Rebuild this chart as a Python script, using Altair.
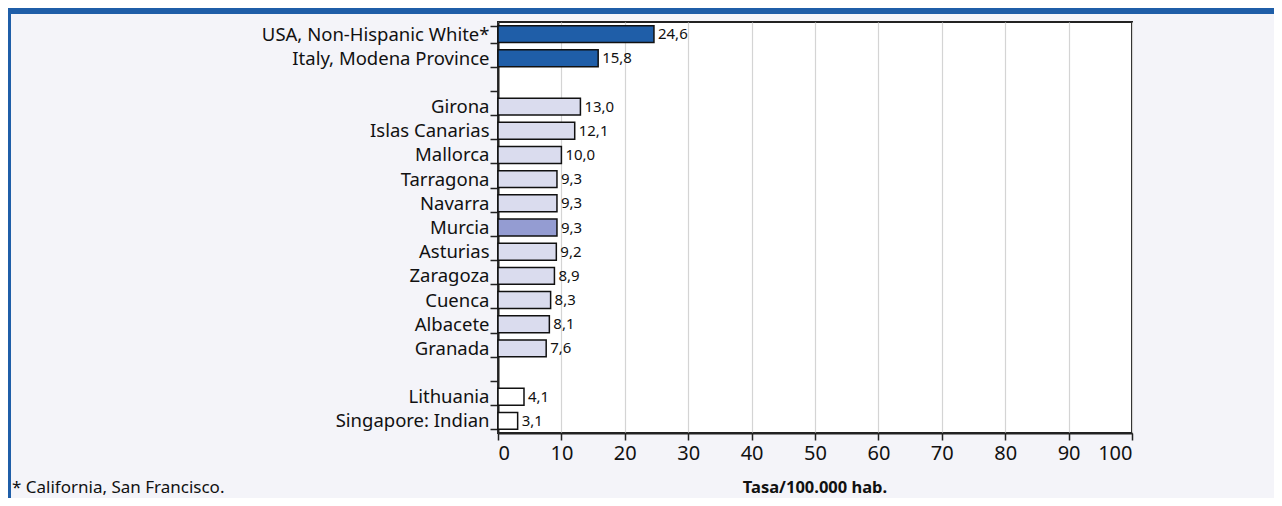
import altair as alt
import pandas as pd

categories = ["USA, Non-Hispanic White*", "Italy, Modena Province", " ",
              "Girona", "Islas Canarias", "Mallorca", "Tarragona", "Navarra",
              "Murcia", "Asturias", "Zaragoza", "Cuenca", "Albacete", "Granada",
              "  ", "Lithuania", "Singapore: Indian"]
values = [24.6, 15.8, None, 13.0, 12.1, 10.0, 9.3, 9.3, 9.3, 9.2, 8.9, 8.3,
          8.1, 7.6, None, 4.1, 3.1]
groups = ["ref", "ref", "gap", "es", "es", "es", "es", "es", "murcia", "es",
          "es", "es", "es", "es", "gap", "other", "other"]
x_ticks = [0, 10, 20, 30, 40, 50, 60, 70, 80, 90, 100]
x_title = "Tasa/100.000 hab."
footnote = "* California, San Francisco."

group_domain = ["ref", "es", "murcia", "other", "gap"]
group_colors = ["#1f5ea8", "#dadcee", "#949cd2", "#ffffff", "#ffffff"]

df = pd.DataFrame({"cat": categories, "val": values, "grp": groups})
df["lab"] = [("" if v is None or pd.isna(v) else f"{v:.1f}".replace(".", ",")) for v in df["val"]]
bars_df = df[df["grp"] != "gap"]

FONT = "Noto Sans"
W, H = 634, 411

y_enc = alt.Y("cat:N", sort=categories, scale=alt.Scale(domain=categories, paddingInner=0.3, paddingOuter=0.15),
              axis=alt.Axis(title=None, tickBand="extent", tickSize=8, tickColor="#222", tickWidth=1.5,
                            domainColor="#222", domainWidth=2, labelFontSize=18.5, labelFont=FONT,
                            labelColor="#111", labelPadding=1, labelLimit=480))
x_enc = alt.X("val:Q", scale=alt.Scale(domain=[0, 100], nice=False),
              axis=alt.Axis(values=x_ticks, title=None,
                            labelFontSize=20, labelFont=FONT, labelColor="#111", labelPadding=3,
                            tickSize=7, tickColor="#222", tickWidth=1.5, domainColor="#222", domainWidth=2,
                            grid=True, gridColor="#d4d4d4", gridWidth=1.2))

bars = alt.Chart(bars_df).mark_bar(stroke="#111", strokeWidth=1.5).encode(
    x=x_enc, y=y_enc,
    color=alt.Color("grp:N", scale=alt.Scale(domain=group_domain, range=group_colors), legend=None),
)
labels = alt.Chart(bars_df).mark_text(align="left", baseline="middle", dx=4, fontSize=15, font=FONT,
                                      color="#111").encode(
    x="val:Q", y=alt.Y("cat:N", sort=categories), text="lab:N")

foot = alt.Chart(pd.DataFrame({"t": [footnote]})).mark_text(
    align="left", baseline="alphabetic", fontSize=17, font=FONT, color="#111").encode(
    x=alt.value(-486), y=alt.value(471), text="t:N")

title = alt.Chart(pd.DataFrame({"t": [x_title]})).mark_text(
    align="center", baseline="alphabetic", fontSize=16.5, font=FONT, fontWeight="bold", color="#111").encode(
    x=alt.value(W / 2), y=alt.value(471), text="t:N")

top_bar = alt.Chart(pd.DataFrame({"a": [0]})).mark_rule(color="#1f5ea8", strokeWidth=6).encode(
    x=alt.value(-490), x2=alt.value(776), y=alt.value(-11))
left_bar = alt.Chart(pd.DataFrame({"a": [0]})).mark_rule(color="#1f5ea8", strokeWidth=3).encode(
    x=alt.value(-488.5), y=alt.value(-14), y2=alt.value(476))

chart = alt.layer(bars, labels, foot, title, top_bar, left_bar).properties(
    width=W, height=H,
    autosize=alt.AutoSizeParams(type="none"),
    padding={"left": 490, "top": 14, "right": 142, "bottom": 65},
    background="#f4f4f9",
).configure_view(stroke="#222", strokeWidth=2, fill="white")

chart.save("out.html", embed_options={"renderer": "svg", "actions": False})
